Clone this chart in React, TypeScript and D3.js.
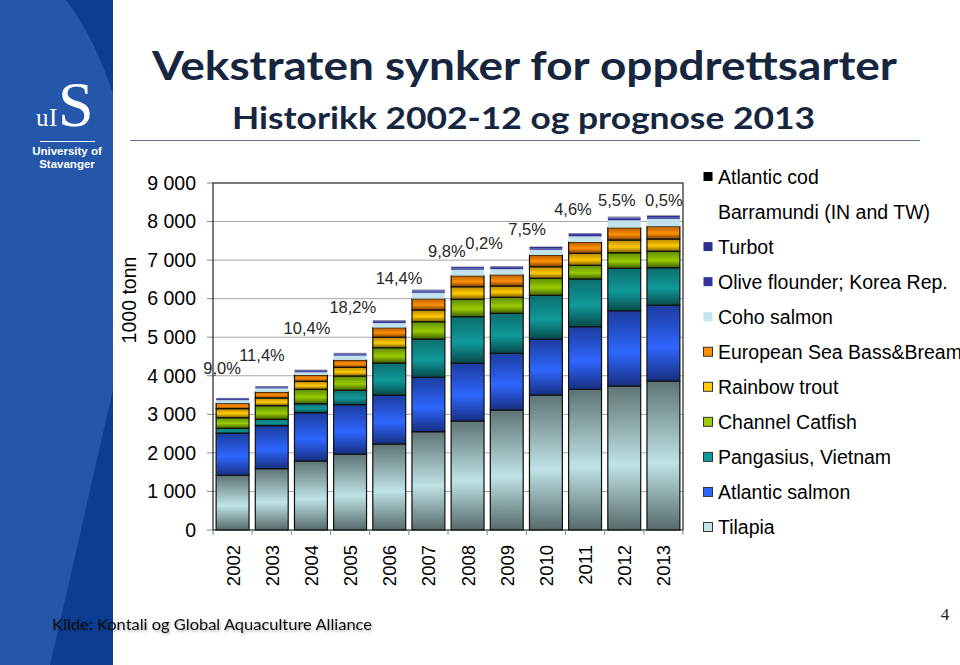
import * as d3 from "d3"

const years = ["2002", "2003", "2004", "2005", "2006", "2007", "2008", "2009", "2010", "2011", "2012", "2013"]

// thousand tonnes
const tilapia = [1418, 1590, 1790, 1970, 2230, 2550, 2827, 3112, 3500, 3648, 3734, 3864]
const atlanticSalmon = [1090, 1115, 1253, 1280, 1270, 1410, 1496, 1470, 1446, 1625, 1953, 1963]
const pangasius = [130, 165, 232, 373, 831, 993, 1209, 1038, 1140, 1236, 1100, 976]
const channelCatfish = [275, 355, 373, 371, 397, 449, 451, 415, 441, 355, 404, 425]
const rainbowTrout = [235, 200, 207, 225, 269, 303, 327, 293, 302, 311, 330, 319]
const seaBassBream = [140, 155, 165, 190, 250, 294, 285, 293, 303, 294, 319, 329]
const cohoSalmon = [80, 93, 70, 114, 120, 153, 155, 144, 136, 147, 192, 194]
const oliveFlounder = [28, 28, 30, 32, 34, 36, 36, 36, 38, 38, 40, 40]
const turbot = [22, 24, 26, 28, 30, 32, 34, 34, 36, 38, 40, 42]
const barramundi = [4, 4, 4, 5, 5, 5, 6, 6, 6, 6, 7, 7]
const atlanticCod = [4, 4, 5, 5, 6, 6, 6, 5, 5, 5, 6, 6]

const yTicks = [0, 1000, 2000, 3000, 4000, 5000, 6000, 7000, 8000, 9000]

// growth labels, anchored in (bar index, thousand tonnes)
const growthText = ["9,0%", "11,4%", "10,4%", "18,2%", "14,4%", "9,8%", "0,2%", "7,5%", "4,6%", "5,5%", "0,5%"]
const growthAt = [0.23, 1.25, 2.4, 3.57, 4.75, 5.97, 6.92, 8.02, 9.19, 10.31, 11.51]
const growthLevel = [4200, 4540, 5240, 5780, 6530, 7240, 7440, 7790, 8330, 8560, 8560]

type Series = {
  key: string
  label: string
  values: number[]
  colors: [string, string, string]
  outline: boolean
  marker: boolean
}

// bottom to top
const series: Series[] = [
  { key: "tilapia", label: "Tilapia", values: tilapia, colors: ["#5e7474", "#bfe3e6", "#566a6a"], outline: true, marker: true },
  { key: "salmon", label: "Atlantic salmon", values: atlanticSalmon, colors: ["#1c3c9e", "#2f66ff", "#172f80"], outline: true, marker: true },
  { key: "pangasius", label: "Pangasius, Vietnam", values: pangasius, colors: ["#0b6e6e", "#10999a", "#084a4a"], outline: true, marker: true },
  { key: "catfish", label: "Channel Catfish", values: channelCatfish, colors: ["#5e8c00", "#9acc00", "#3f5e00"], outline: true, marker: true },
  { key: "trout", label: "Rainbow trout", values: rainbowTrout, colors: ["#b98600", "#ffcc00", "#7c5a00"], outline: true, marker: true },
  { key: "seabass", label: "European Sea Bass&Bream", values: seaBassBream, colors: ["#b85c00", "#ff9000", "#7c3e00"], outline: true, marker: true },
  { key: "coho", label: "Coho salmon", values: cohoSalmon, colors: ["#bde0ea", "#c4e4ec", "#bde0ea"], outline: false, marker: true },
  { key: "olive", label: "Olive flounder; Korea Rep.", values: oliveFlounder, colors: ["#34349c", "#34349c", "#34349c"], outline: false, marker: true },
  { key: "turbot", label: "Turbot", values: turbot, colors: ["#2c3090", "#2c3090", "#2c3090"], outline: false, marker: true },
  { key: "barramundi", label: "Barramundi (IN and TW)", values: barramundi, colors: ["#ffffff", "#ffffff", "#ffffff"], outline: false, marker: false },
  { key: "cod", label: "Atlantic cod", values: atlanticCod, colors: ["#000000", "#000000", "#000000"], outline: false, marker: true },
]

const W = 960
const H = 665
const plot = { left: 213, right: 683, top: 183, bottom: 530 }
const arial = "'Liberation Sans', Arial, sans-serif"
const calibri = "Lato, 'Open Sans', sans-serif"
const serif = "'Liberation Serif', serif"

const fmt = d3.formatLocale({ decimal: ",", thousands: " ", grouping: [3], currency: ["", ""] }).format(",d")

export default function App() {
  const x = d3.scaleBand<string>().domain(years).range([plot.left, plot.right]).paddingInner(0.16).paddingOuter(0.08)
  const xIdx = d3.scaleLinear().domain([0, years.length]).range([plot.left, plot.right])
  const y = d3.scaleLinear().domain([0, 9000]).range([plot.bottom, plot.top])

  const rows = years.map((yr, i) => {
    const r: Record<string, number | string> = { year: yr }
    series.forEach((s) => (r[s.key] = s.values[i]))
    return r
  })
  const stack = d3.stack<Record<string, number | string>>().keys(series.map((s) => s.key))
  const layers = stack(rows as any)

  const legendOrder = [...series].reverse()
  const step = x.step()

  return (
    <div style={{ position: "fixed", left: 0, top: 0, width: W, height: H, overflow: "hidden", background: "#fff" }}>
      <svg width={W} height={H} style={{ display: "block" }}>
        <defs>
          {series.map((s) => (
            <linearGradient key={s.key} id={`g-${s.key}`} x1="0" y1="0" x2="0" y2="1">
              <stop offset="0" stopColor={s.colors[0]} />
              <stop offset="0.55" stopColor={s.colors[1]} />
              <stop offset="1" stopColor={s.colors[2]} />
            </linearGradient>
          ))}
          <clipPath id="panel">
            <rect x={0} y={0} width={113} height={H} />
          </clipPath>
          <filter id="shadow" x="-5%" y="-30%" width="110%" height="160%">
            <feDropShadow dx="1" dy="1.5" stdDeviation="1" floodColor="#000" floodOpacity="0.35" />
          </filter>
        </defs>

        {/* left university panel */}
        <rect x={0} y={0} width={113} height={H} fill="#0c3d92" />
        <path
          clipPath="url(#panel)"
          d="M0,0 L66,0 C150,110 150,320 113,390 C92,480 70,580 50,665 L0,665 Z"
          fill="#2457aa"
        />
        <g fill="#fff">
          <text x={58} y={126} fontFamily={serif} fontSize={64}>S</text>
          <text x={36} y={126} fontFamily={serif} fontSize={25}>u</text>
          <text x={49} y={126} fontFamily={serif} fontSize={25}>I</text>
          <rect x={40} y={141} width={55} height={1} />
          <text x={67} y={155} fontFamily={arial} fontSize={11.5} fontWeight="bold" textAnchor="middle">University of</text>
          <text x={67} y={168} fontFamily={arial} fontSize={11.5} fontWeight="bold" textAnchor="middle">Stavanger</text>
        </g>

        {/* titles */}
        <text x={152} y={80} fontFamily={calibri} fontWeight="bold" fontSize={41} fill="#17263f" textLength={745} lengthAdjust="spacingAndGlyphs">
          Vekstraten synker for oppdrettsarter
        </text>
        <text x={232} y={129} fontFamily={calibri} fontWeight="bold" fontSize={31} fill="#17263f" textLength={583} lengthAdjust="spacingAndGlyphs">
          Historikk 2002-12 og prognose 2013
        </text>
        <line x1={130} x2={920} y1={140.5} y2={140.5} stroke="#5a6f94" strokeWidth={1.2} />

        {/* gridlines and y ticks */}
        {yTicks.map((t) => (
          <g key={t}>
            {t > 0 && t < 9000 && <line x1={plot.left} x2={plot.right} y1={y(t)} y2={y(t)} stroke="#a6a6a6" strokeWidth={1} />}
            <line x1={plot.left - 6} x2={plot.left} y1={y(t)} y2={y(t)} stroke="#888" strokeWidth={1} />
            <text x={196} y={y(t)} dy="0.35em" textAnchor="end" fontFamily={arial} fontSize={19.5} fill="#000">
              {fmt(t)}
            </text>
          </g>
        ))}

        {/* bars */}
        {layers.map((layer, li) => {
          const s = series[li]
          return (
            <g key={s.key}>
              {layer.map((d, i) => {
                const y0 = y(d[0])
                const y1 = y(d[1])
                return (
                  <rect
                    key={years[i]}
                    x={x(years[i])}
                    y={y1}
                    width={x.bandwidth()}
                    height={Math.max(0, y0 - y1)}
                    fill={`url(#g-${s.key})`}
                    stroke={s.outline ? "#111" : "none"}
                    strokeWidth={s.outline ? 1.2 : 0}
                  />
                )
              })}
            </g>
          )
        })}

        {/* plot frame */}
        <rect x={plot.left} y={plot.top} width={plot.right - plot.left} height={plot.bottom - plot.top} fill="none" stroke="#222" strokeWidth={1.2} />
        {d3.range(years.length + 1).map((i) => (
          <line key={i} x1={plot.left + i * step} x2={plot.left + i * step} y1={plot.bottom} y2={plot.bottom + 5} stroke="#888" />
        ))}

        {/* x labels */}
        {years.map((yr) => (
          <text
            key={yr}
            transform={`translate(${(x(yr) ?? 0) + x.bandwidth() / 2 + 7},545) rotate(-90)`}
            textAnchor="end"
            fontFamily={arial}
            fontSize={18.5}
            fill="#000"
          >
            {yr}
          </text>
        ))}

        {/* growth labels */}
        {growthText.map((t, i) => (
          <text key={i} x={xIdx(growthAt[i])} y={y(growthLevel[i])} dy="0.35em" textAnchor="middle" fontFamily={arial} fontSize={16.5} fill="#262626">
            {t}
          </text>
        ))}

        {/* y axis title */}
        <text transform="translate(136,300) rotate(-90)" textAnchor="middle" fontFamily={arial} fontSize={19.5} fill="#000">
          1000 tonn
        </text>

        {/* legend */}
        {legendOrder.map((s, i) => {
          const cy = 177 + i * 35.05
          return (
            <g key={s.key}>
              {s.marker && (
                <rect
                  x={703.5}
                  y={cy - 5}
                  width={9}
                  height={9}
                  fill={s.colors[1]}
                  stroke={s.outline ? "#333" : "none"}
                  strokeWidth={1}
                />
              )}
              <text x={718} y={cy} dy="0.35em" fontFamily={arial} fontSize={19.5} fill="#000">
                {s.label}
              </text>
            </g>
          )
        })}

        {/* footer */}
        <text x={52} y={630} fontFamily={calibri} fontSize={16} fill="#111" textLength={320} lengthAdjust="spacingAndGlyphs" filter="url(#shadow)">
          Kilde: Kontali og Global Aquaculture Alliance
        </text>
        <text x={945} y={620} fontFamily={serif} fontSize={17} fill="#222" textAnchor="middle">4</text>
      </svg>
    </div>
  )
}
